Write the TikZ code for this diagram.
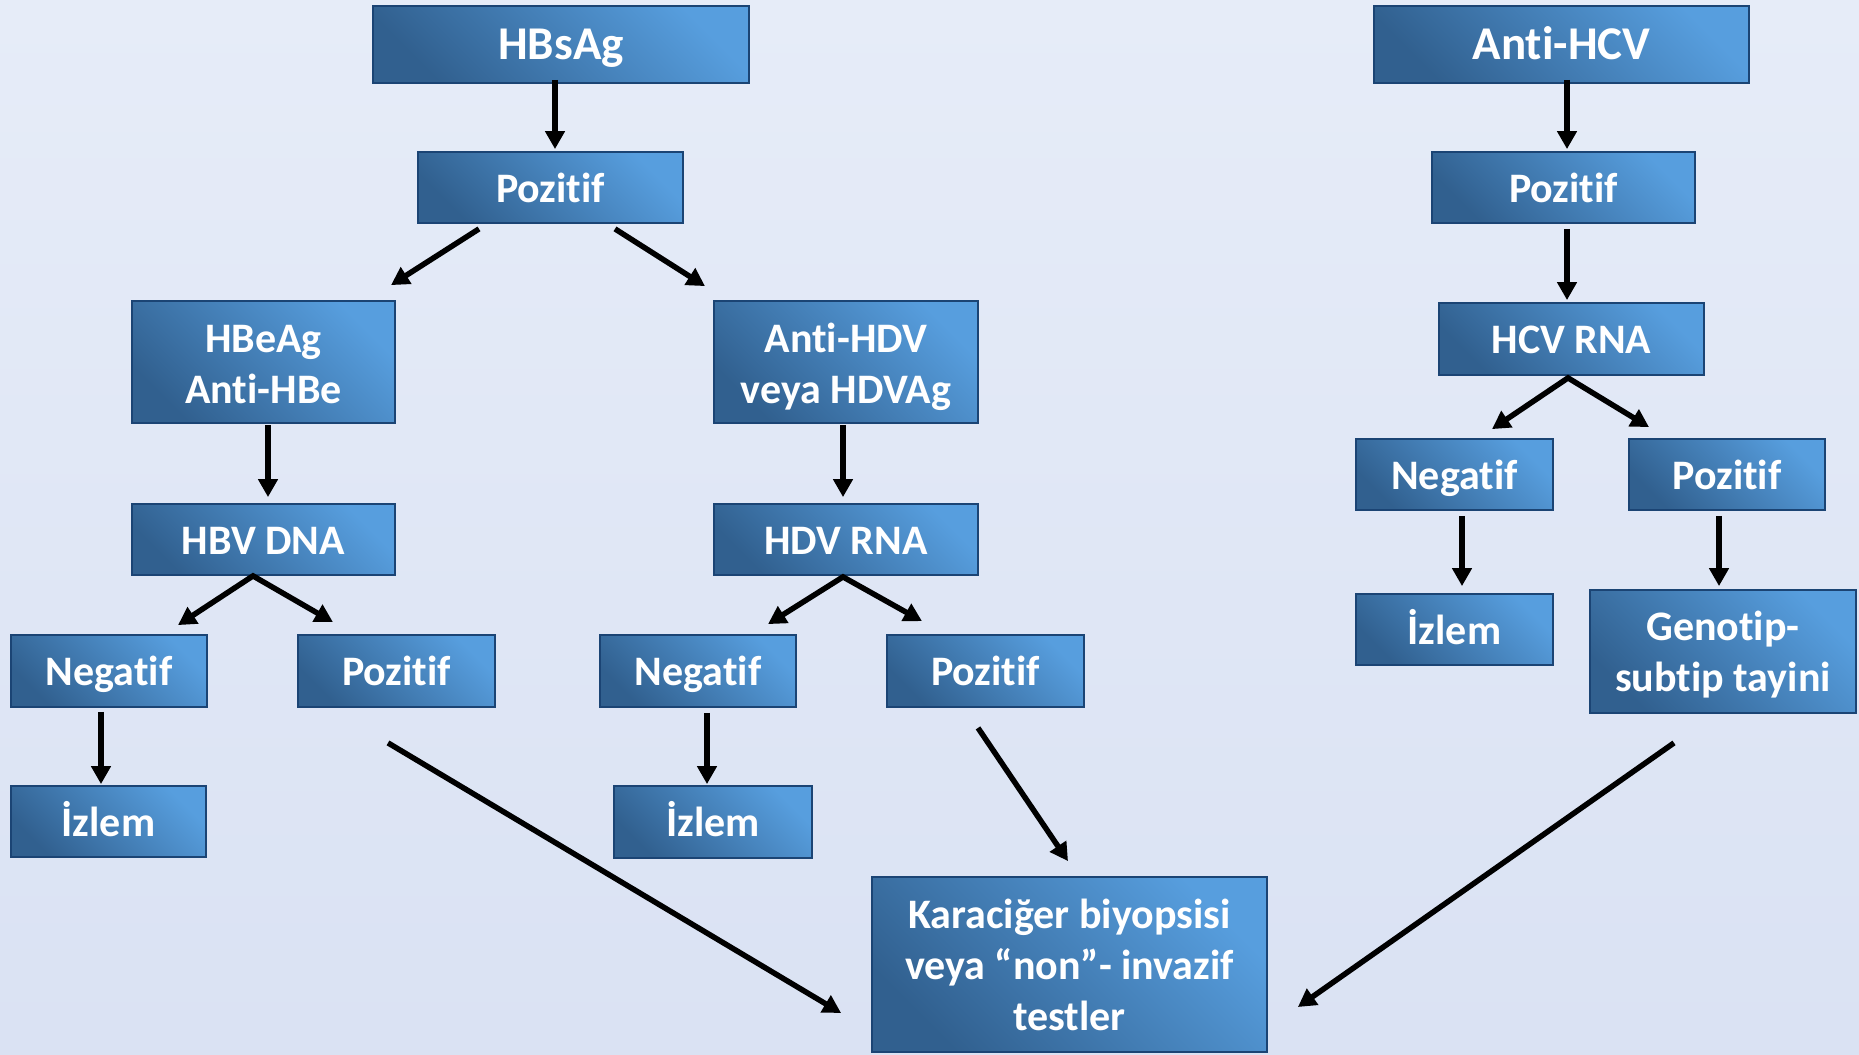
\documentclass[tikz,border=0pt]{standalone}
\usepackage{fontspec}
\setmainfont{Carlito}[Ligatures=NoCommon]
\usetikzlibrary{arrows.meta}
\definecolor{bgtop}{HTML}{E6ECF8}
\definecolor{bgmid}{HTML}{C3D2EC}
\definecolor{bgbot}{HTML}{DAE2F3}
\definecolor{bxlight}{HTML}{579EDE}
\definecolor{bxdark}{HTML}{31608F}
\definecolor{bxbord}{HTML}{1B4474}
\tikzset{
  box/.style={draw=bxbord, line width=1.8pt, top color=bxlight, bottom color=bxdark, shading angle=-45,
    text=white, align=center, inner sep=0pt, font=\bfseries\fontsize{42}{50.5}\selectfont},
  one/.style={text height=38pt, text depth=9pt},
  big/.style={font=\bfseries\fontsize{47}{52}\selectfont, text height=40pt, text depth=9.4pt},
  two/.style={text height=91pt, text depth=9pt},
  arr/.style={line width=5.5pt, -{Triangle[length=18pt,width=19pt]}},
  fork/.style={line width=5.5pt, {Triangle[length=18pt,width=19pt]}-{Triangle[length=18pt,width=19pt]}}
}
\begin{document}
\begin{tikzpicture}[x=1pt,y=-1pt]
\useasboundingbox (0,0) rectangle (1859,1054);
\shade[top color=bgtop, middle color=bgmid, bottom color=bgbot] (0,0) rectangle (1859,1054);

% HBV branch
\node[box, big, minimum width=376pt, minimum height=77pt] (hbs) at (561,44.5) {HBsAg};
\node[box, one, minimum width=265pt, minimum height=71pt] (poz1) at (550.5,187.5) {Pozitif};
\node[box, two, minimum width=263pt, minimum height=122pt] (hbe) at (263.5,362) {HBeAg\\Anti-HBe};
\node[box, two, minimum width=264pt, minimum height=122pt] (ahdv) at (846,362) {Anti-HDV\\veya HDVAg};
\node[box, one, minimum width=263pt, minimum height=71pt] (hbv) at (263.5,539.5) {HBV DNA};
\node[box, one, minimum width=264pt, minimum height=71pt] (hdv) at (846,539.5) {HDV RNA};
\node[box, one, minimum width=196pt, minimum height=72pt] (neg1) at (109,671) {Negatif};
\node[box, one, minimum width=197pt, minimum height=72pt] (poz2) at (396.5,671) {Pozitif};
\node[box, one, minimum width=195pt, minimum height=71pt] (izl1) at (108.5,821.5) {İzlem};
\node[box, one, minimum width=196pt, minimum height=72pt] (neg2) at (698,671) {Negatif};
\node[box, one, minimum width=197pt, minimum height=72pt] (poz3) at (985.5,671) {Pozitif};
\node[box, one, minimum width=198pt, minimum height=72pt] (izl2) at (713,822) {İzlem};
\node[box, minimum width=395pt, minimum height=175pt, font=\bfseries\fontsize{42}{51}\selectfont,
  text height=141pt, text depth=9pt] (kar) at (1069.5,964.5) {Karaciğer biyopsisi\\veya “non”- invazif\\testler};

% HCV branch
\node[box, big, minimum width=375pt, minimum height=77pt] (ahcv) at (1561.5,44.5) {Anti-HCV};
\node[box, one, minimum width=263pt, minimum height=71pt] (poz4) at (1563.5,187.5) {Pozitif};
\node[box, one, minimum width=265pt, minimum height=72pt] (hcv) at (1571.5,339) {HCV RNA};
\node[box, one, minimum width=197pt, minimum height=71pt] (neg3) at (1454.5,474.5) {Negatif};
\node[box, one, minimum width=196pt, minimum height=71pt] (poz5) at (1727,474.5) {Pozitif};
\node[box, one, minimum width=197pt, minimum height=71pt] (izl3) at (1454.5,629.5) {İzlem};
\node[box, minimum width=266pt, minimum height=123pt, text height=88pt, text depth=9pt] (gen) at (1723,651.5) {Genotip-\\subtip tayini};

% connectors
\draw[arr] ([xshift=-6pt,yshift=4pt]hbs.south) -- ([xshift=4.5pt,yshift=2pt]poz1.north);
\draw[arr] ([xshift=-71.5pt,yshift=-5pt]poz1.south) -- ([xshift=127.5pt,yshift=15pt]hbe.north);
\draw[arr] ([xshift=64.5pt,yshift=-5pt]poz1.south) -- ([xshift=-141pt,yshift=14pt]ahdv.north);
\draw[arr] ([xshift=4.5pt,yshift=-1pt]hbe.south) -- ([xshift=4.5pt,yshift=6pt]hbv.north);
\draw[arr] ([xshift=-3pt,yshift=-1pt]ahdv.south) -- ([xshift=-3pt,yshift=6pt]hdv.north);
\draw[fork] ([xshift=69pt,yshift=9pt]neg1.north) -- ([xshift=-10.5pt]hbv.south) -- ([xshift=-63.5pt,yshift=12pt]poz2.north);
\draw[fork] ([xshift=70pt,yshift=10pt]neg2.north) -- ([xshift=-3pt,yshift=-1pt]hdv.south) -- ([xshift=-63.5pt,yshift=13pt]poz3.north);
\draw[arr] ([xshift=-8pt,yshift=-4pt]neg1.south) -- ([xshift=-7.5pt,yshift=1pt]izl1.north);
\draw[arr] ([xshift=9pt,yshift=-5pt]neg2.south) -- ([xshift=-6pt,yshift=1pt]izl2.north);
\draw[arr] ([xshift=-8.5pt,yshift=-35pt]poz2.south) -- ([xshift=-30pt,yshift=-48.5pt]kar.west);
\draw[arr] ([xshift=-7.5pt,yshift=-20pt]poz3.south) -- ([xshift=-1.5pt,yshift=15pt]kar.north);
\draw[arr] ([xshift=-49pt,yshift=-29pt]gen.south) -- ([xshift=30pt,yshift=-42.5pt]kar.east);
\draw[arr] ([xshift=5.5pt,yshift=4pt]ahcv.south) -- ([xshift=3.5pt,yshift=2pt]poz4.north);
\draw[arr] ([xshift=3.5pt,yshift=-5pt]poz4.south) -- ([xshift=-4.5pt,yshift=2pt]hcv.north);
\draw[fork] ([xshift=37.5pt,yshift=9pt]neg3.north) -- ([xshift=-3.5pt,yshift=-2pt]hcv.south) -- ([xshift=-78pt,yshift=11pt]poz5.north);
\draw[arr] ([xshift=7.5pt,yshift=-5pt]neg3.south) -- ([xshift=7.5pt,yshift=7pt]izl3.north);
\draw[arr] ([xshift=-8pt,yshift=-5pt]poz5.south) -- ([xshift=-4pt,yshift=3pt]gen.north);
\end{tikzpicture}
\end{document}
